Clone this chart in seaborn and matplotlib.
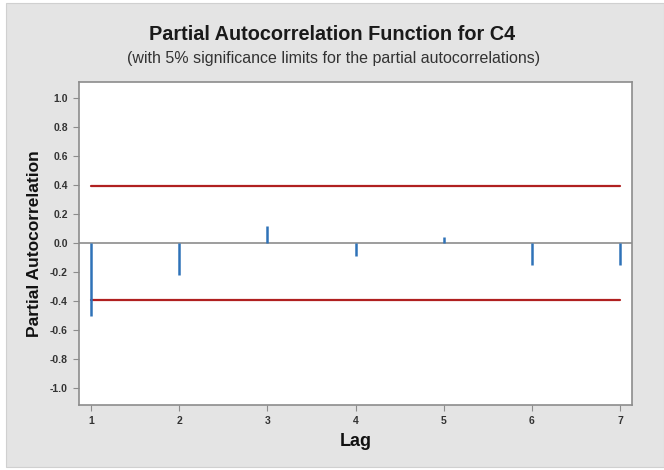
import numpy as np
import pandas as pd
import matplotlib
matplotlib.use("Agg")
import matplotlib.pyplot as plt
from matplotlib.patches import Rectangle
import seaborn as sns

# PACF values by lag
lags = [1, 2, 3, 4, 5, 6, 7]
pacf = [-0.50, -0.22, 0.12, -0.09, 0.04, -0.15, -0.15]
limit = 0.392  # 5% significance limit
yticks = [1.0, 0.8, 0.6, 0.4, 0.2, 0.0, -0.2, -0.4, -0.6, -0.8, -1.0]

sns.set_theme(style="white")
plt.rcParams["font.family"] = ["Liberation Sans", "DejaVu Sans"]

fig = plt.figure(figsize=(6.64, 4.70), dpi=100, facecolor="white")
# gray panel behind the chart
fig.patches.append(Rectangle((6 / 664, 3 / 470), 1 - 6 / 664, 1 - 6 / 470,
                             transform=fig.transFigure, facecolor="#e4e4e4",
                             edgecolor="#d0d0d0", lw=0.8, zorder=-10))

ax = fig.add_axes([79 / 664, 1 - 405 / 470, (632 - 79) / 664, (405 - 82) / 470])
ax.set_facecolor("white")

df = pd.DataFrame({"Lag": lags, "PACF": pacf})
lim_df = pd.DataFrame({"Lag": lags * 2,
                       "val": [limit] * len(lags) + [-limit] * len(lags),
                       "side": ["up"] * len(lags) + ["low"] * len(lags)})

ax.axhline(0, color="#8c8c8c", lw=1.2, zorder=1)
sns.lineplot(data=lim_df, x="Lag", y="val", units="side", estimator=None,
             color="#b02020", lw=1.6, ax=ax, zorder=2)
ax.vlines(df["Lag"], 0, df["PACF"], color="#2f72b8", lw=1.8, zorder=3)

ax.set_xlim(0.864, 7.136)
ax.set_ylim(-1.117, 1.11)
ax.set_xticks(lags)
ax.set_xticklabels([str(l) for l in lags])
ax.set_yticks(yticks)
ax.set_yticklabels([f"{t:.1f}" for t in yticks])
ax.tick_params(axis="y", which="major", direction="out", length=4, width=0.8,
               color="#8c8c8c", labelsize=7.5, pad=4, left=True)
ax.tick_params(axis="x", which="major", direction="out", length=4, width=0.8,
               color="#8c8c8c", labelsize=7.5, pad=4, bottom=True)
for lab in ax.get_xticklabels() + ax.get_yticklabels():
    lab.set_fontweight("bold")
    lab.set_color("#333333")
for s in ax.spines.values():
    s.set_color("#8c8c8c")
    s.set_linewidth(1.2)

ax.set_xlabel("Lag", fontsize=13, fontweight="bold", labelpad=5, color="#111111")
ax.set_ylabel("Partial Autocorrelation", fontsize=12.5, fontweight="bold",
              labelpad=6, color="#111111")

fig.text(0.5, 1 - 35 / 470, "Partial Autocorrelation Function for C4",
         ha="center", va="center", fontsize=14.3, fontweight="bold", color="#1a1a1a")
fig.text(0.503, 1 - 58 / 470,
         "(with 5% significance limits for the partial autocorrelations)",
         ha="center", va="center", fontsize=11.5, color="#333333")

fig.savefig("out.png", dpi=100, facecolor=fig.get_facecolor())
